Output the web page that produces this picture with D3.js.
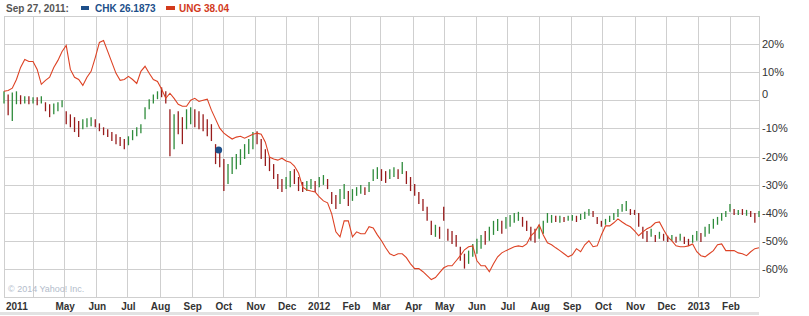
<!DOCTYPE html>
<html>
<head>
<meta charset="utf-8">
<script src="https://cdn.jsdelivr.net/npm/d3@7"></script>
<style>
  body { margin: 0; background: #fff; }
  svg { display: block; }
  .tick-x { font-family: "Liberation Sans", Arial, sans-serif; font-size: 10px; font-weight: bold; fill: #333; }
  .tick-y { font-family: "Liberation Sans", Arial, sans-serif; font-size: 11px; fill: #333; }
</style>
</head>
<body>
<div id="chart"></div>
<script>
// sample grid: every 4 calendar days starting Mar 4 2011
var startDay = new Date(2011, 2, 4);
var stepDays = 4;

// UNG % change (red line)
var ungPct = [3.2, 3.5, 4.3, 7.4, 11.7, 14.5, 13.8, 13.8, 11, 5.7,
    7.1, 8.2, 11.7, 14.2, 17.4, 19.5, 11, 8.2, 7.4, 5.3,
    8.2, 10.3, 15.2, 20.6, 21.3, 17.4, 13.5, 9.6, 7.1, 7.4,
    8.5, 7.4, 6, 10.3, 12.1, 9.6, 7.4, 6.7, 3.9, 0.7,
    2.5, 0.7, -1.4, -2.1, -2.1, 0, 0.7, -0.4, 0, 0.4,
    -3.5, -6.7, -9.9, -11.7, -12.8, -13.8, -13.1, -12.8, -13.5, -12.8,
    -12.1, -11.7, -12.1, -14.9, -20.2, -20.9, -21.3, -20.6, -21.6, -22,
    -23.4, -25.9, -30.9, -31.9, -32.3, -32.6, -34.4, -35.8, -36.5, -40.4,
    -46.8, -48.6, -42.9, -42.9, -48.6, -46.8, -47.5, -47.5, -45, -45.4,
    -47.9, -50, -52.5, -54.6, -55.3, -54.6, -54.6, -56, -58.2, -59.9,
    -59.9, -61, -62.4, -63.8, -63.1, -61.3, -59.6, -58.9, -58.9, -57.1,
    -55.3, -53.2, -52.1, -51.8, -57.1, -58.9, -58.9, -61, -58.2, -55.7,
    -54.3, -53.5, -52.8, -52.1, -51.8, -52.1, -51.1, -48.2, -46.8, -44.3,
    -47.9, -50.7, -51.4, -52.5, -53.5, -54.6, -55.7, -55, -52.8, -53.9,
    -51.4, -50, -52.1, -51.8, -47.9, -44.7, -44.7, -43.6, -42.2, -43.3,
    -44.3, -45, -46.5, -48.2, -46.8, -45.7, -45, -43.6, -43.3, -46.1,
    -48.6, -50, -51.8, -52.1, -52.1, -51.8, -51.1, -53.9, -55.3, -55.7,
    -54.6, -53.5, -51.4, -51.1, -53.5, -53.5, -53.5, -54.3, -54.6, -55.3,
    -53.9, -52.8, -52.5];

// CHK % change, high / low of each bar, and direction (1 up, 0 down)
var chkHigh = [3.2, 2.1, 2.8, 3.2, 1.8, 1.4, 1.4, 1.1, 1.1, 1.4,
    -0.7, -1.4, -1.1, -0.7, 0, -3.9, -5, -6, -7.4, -6.7,
    -6.4, -6, -6.7, -8.2, -9.6, -10.3, -11.3, -12.1, -13.1, -13.8,
    -12.8, -10.6, -9.6, -8.5, -2.5, 0.4, 2.1, 3.2, 4.6, 3.2,
    -3.2, -5, -3.9, -6, -3.2, -2.5, -3.2, -3.9, -5, -6.7,
    -8.5, -15.6, -16.7, -20.9, -22.7, -20.2, -19.1, -17.4, -15.6, -13.8,
    -11.3, -11, -13.8, -17.4, -20.2, -22.7, -26.2, -28, -27.3, -25.2,
    -24.5, -27.3, -29.1, -28.7, -28, -28.7, -27.3, -26.6, -28, -32.6,
    -33.7, -31.6, -29.8, -32.3, -31.6, -30.9, -30.1, -30.9, -29.1, -24.5,
    -23.8, -24.5, -25.2, -24.5, -23.8, -24.5, -22, -25.2, -27.3, -29.8,
    -32.6, -35.1, -37.9, -42.9, -44.3, -45, -37.9, -45.7, -46.5, -47.9,
    -52.1, -54.6, -53.5, -51.1, -49.3, -47.9, -46.5, -45, -42.9, -42.2,
    -42.9, -41.5, -40.8, -40.1, -39.7, -41.5, -42.9, -45, -45.7, -44.3,
    -42.9, -40.1, -40.8, -41.1, -41.1, -41.5, -41.1, -40.8, -41.1, -40.4,
    -39.7, -38.7, -39.4, -41.5, -42.9, -42.2, -41.1, -40.1, -38.7, -36.9,
    -35.8, -38.7, -39, -40.1, -45, -46.5, -45.7, -47.9, -46.8, -47.5,
    -48.2, -47.9, -48.6, -47.5, -48.6, -49.3, -47.9, -46.5, -47.2, -45,
    -44, -42.2, -41.5, -40.1, -39.4, -36.9, -38.7, -39, -38.7, -39,
    -39.4, -40.1, -39.4];

var chkLow = [-1.1, -5.3, -7.4, -1.4, -1.4, -1.1, -1.4, -1.1, -1.8, -1.1,
    -3.9, -6, -5, -3.9, -2.5, -8.5, -9.6, -11.3, -13.1, -10.3,
    -9.6, -9.2, -9.6, -11, -12.4, -13.1, -14.5, -15.6, -16.3, -17.4,
    -16, -14.2, -12.8, -11.7, -6.7, -3.2, -1.1, 0.4, 1.1, -1.1,
    -19.9, -17.4, -12.1, -15.6, -10.3, -8.5, -9.6, -10.3, -11, -12.8,
    -14.5, -22.7, -23.8, -32.3, -29.8, -26.2, -24.5, -23, -20.9, -19.1,
    -17.4, -15.6, -20.9, -23.4, -25.2, -28, -31.6, -32.6, -31.6, -30.9,
    -29.8, -32.3, -32.6, -32.3, -31.6, -32.6, -30.9, -30.1, -31.6, -36.9,
    -38.7, -36.9, -35.1, -37.6, -35.8, -34, -33.3, -33.7, -32.6, -28.7,
    -28, -28.7, -29.4, -28, -27.3, -28, -26.2, -29.8, -32.3, -34,
    -36.9, -39.4, -42.9, -47.9, -48.6, -49.3, -42.9, -50, -51.1, -52.1,
    -57.1, -59.9, -58.2, -55.7, -54.6, -52.8, -51.4, -50, -47.9, -46.5,
    -47.5, -45.7, -45, -43.6, -42.9, -45, -46.5, -50, -50.7, -49.3,
    -47.5, -43.6, -43.6, -43.3, -43.6, -43.3, -42.9, -42.9, -43.3, -42.6,
    -42.2, -41.1, -41.5, -44, -45, -44.3, -43.3, -42.6, -41.5, -39.7,
    -39.4, -40.8, -40.8, -45, -49.3, -50.4, -48.6, -50.4, -49.3, -50,
    -50.4, -50, -50.7, -50, -51.1, -51.8, -50.7, -50, -50.4, -48.6,
    -47.5, -45.7, -44.3, -42.9, -41.5, -39.7, -40.8, -40.8, -40.8, -41.1,
    -41.5, -43.6, -41.5];

var chkUp = [1, 0, 1, 1, 0, 1, 0, 1, 0, 1,
    0, 0, 1, 1, 1, 0, 0, 0, 0, 1,
    1, 1, 0, 0, 0, 0, 0, 0, 0, 0,
    1, 1, 1, 1, 1, 1, 1, 1, 0, 0,
    0, 1, 0, 0, 1, 1, 0, 0, 0, 0,
    0, 0, 0, 0, 1, 1, 1, 1, 1, 1,
    1, 0, 0, 0, 0, 0, 0, 0, 1, 1,
    0, 0, 0, 1, 1, 0, 1, 1, 0, 0,
    0, 1, 1, 0, 1, 1, 1, 0, 1, 1,
    1, 0, 0, 1, 1, 0, 1, 0, 0, 0,
    0, 0, 0, 0, 1, 0, 0, 0, 0, 0,
    0, 0, 1, 1, 1, 1, 0, 1, 1, 1,
    0, 1, 1, 1, 1, 0, 0, 0, 0, 1,
    1, 1, 1, 0, 1, 0, 1, 1, 0, 1,
    1, 1, 0, 0, 0, 1, 1, 1, 1, 1,
    1, 0, 0, 0, 0, 0, 1, 0, 1, 0,
    0, 1, 0, 1, 0, 0, 1, 1, 0, 1,
    1, 1, 1, 1, 1, 1, 0, 1, 0, 1,
    0, 0, 1];

var yTicks = [20, 10, 0, -10, -20, -30, -40, -50, -60];
var yGrid = [30, 20, 10, 0, -10, -20, -30, -40, -50, -60, -70];
var monthNames = ["Jan", "Feb", "Mar", "Apr", "May", "Jun", "Jul", "Aug", "Sep", "Oct", "Nov", "Dec"];

var markerDate = new Date(2011, 8, 27);
var markerPct = -17.7;

var W = 809, H = 316;
var plotL = 4, plotR = 759, plotT = 16, plotB = 297;

var dates = ungPct.map(function(v, i) { return d3.timeDay.offset(startDay, i * stepDays); });

var x = d3.scaleTime()
    .domain([startDay, new Date(2013, 2, 1)])
    .range([plotL, plotR]);

var y = d3.scaleLinear()
    .domain([30, -70])
    .range([plotT, plotB]);

var svg = d3.select("#chart").append("svg")
    .attr("width", W)
    .attr("height", H);

svg.append("rect").attr("width", W).attr("height", H).attr("fill", "#fff");

// bottom grey band
svg.append("rect")
    .attr("x", 0).attr("y", 312)
    .attr("width", plotR).attr("height", 3)
    .attr("fill", "#e2e2e2");

var grid = svg.append("g").attr("stroke", "#cfcfcf").attr("stroke-width", 1);

grid.selectAll("line.h").data(yGrid).enter().append("line")
    .attr("x1", plotL).attr("x2", plotR)
    .attr("y1", function(d) { return Math.round(y(d)) + 0.5; })
    .attr("y2", function(d) { return Math.round(y(d)) + 0.5; });

var months = d3.timeMonth.range(new Date(2011, 3, 1), new Date(2013, 2, 1));

grid.selectAll("line.v").data(months.concat([startDay, new Date(2013, 2, 1)])).enter().append("line")
    .attr("y1", plotT).attr("y2", plotB)
    .attr("x1", function(d) { return Math.round(x(d)) + 0.5; })
    .attr("x2", function(d) { return Math.round(x(d)) + 0.5; });

// copyright
svg.append("text")
    .attr("x", 8).attr("y", 292)
    .style("font-family", "\"Liberation Sans\", Arial, sans-serif")
    .style("font-size", "9px")
    .attr("fill", "#b3bccb")
    .text("\u00a9 2014 Yahoo! Inc.");

// x labels
svg.selectAll("text.tx").data(months).enter().append("text")
    .attr("class", "tick-x")
    .attr("x", function(d, i) { return i == 0 ? 6 : x(d) + 1; })
    .attr("y", 310)
    .attr("text-anchor", function(d, i) { return i == 0 ? "start" : "middle"; })
    .text(function(d, i) {
        if (i == 0 || d.getMonth() == 0) return d.getFullYear();
        return monthNames[d.getMonth()];
    });

// y labels on the right
svg.selectAll("text.ty").data(yTicks).enter().append("text")
    .attr("class", "tick-y")
    .attr("x", 762)
    .attr("y", function(d) { return y(d) + (d == 0 ? -2.5 : 4); })
    .text(function(d) { return d == 0 ? "0" : d + "%"; });

// CHK bars
svg.append("g").selectAll("line").data(chkHigh).enter().append("line")
    .attr("x1", function(d, i) { return x(dates[i]); })
    .attr("x2", function(d, i) { return x(dates[i]); })
    .attr("y1", function(d) { return y(d); })
    .attr("y2", function(d, i) { return y(chkLow[i]); })
    .attr("stroke", function(d, i) { return chkUp[i] ? "#2e8b3b" : "#981c1c"; })
    .attr("stroke-width", 1.3);

// UNG line
var line = d3.line()
    .x(function(d, i) { return x(dates[i]); })
    .y(function(d) { return y(d); });

svg.append("path")
    .datum(ungPct)
    .attr("d", line)
    .attr("fill", "none")
    .attr("stroke", "#dd4224")
    .attr("stroke-width", 1.1);

// hover marker
svg.append("circle")
    .attr("cx", x(markerDate))
    .attr("cy", y(markerPct))
    .attr("r", 3.5)
    .attr("fill", "#1d4f8a");

// legend
var lg = svg.append("g").style("font-family", "\"Liberation Sans\", Arial, sans-serif")
    .style("font-size", "10px").style("font-weight", "bold");

lg.append("text").attr("x", 6).attr("y", 12).attr("fill", "#555").text("Sep 27, 2011:");
lg.append("rect").attr("x", 81).attr("y", 6).attr("width", 8).attr("height", 4).attr("fill", "#1d4f8a");
lg.append("text").attr("x", 95).attr("y", 12).attr("fill", "#1d4f8a").text("CHK 26.1873");
lg.append("rect").attr("x", 166).attr("y", 6).attr("width", 9).attr("height", 4).attr("fill", "#d23a1c");
lg.append("text").attr("x", 179).attr("y", 12).attr("fill", "#d23a1c").text("UNG 38.04");
</script>
</body>
</html>
